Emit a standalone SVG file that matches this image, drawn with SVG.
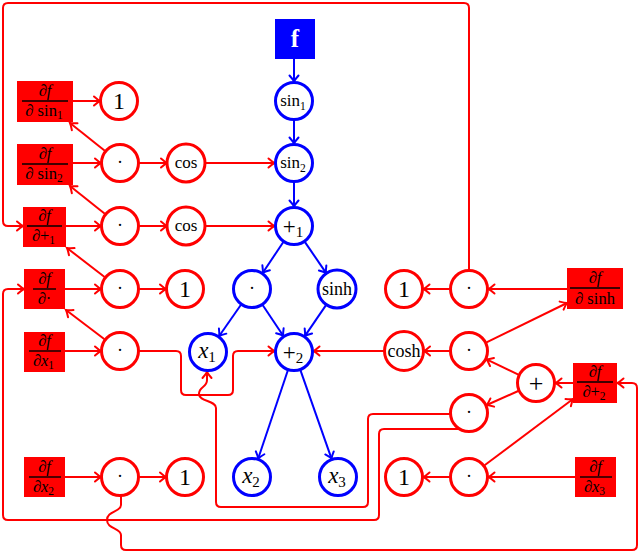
<svg xmlns="http://www.w3.org/2000/svg" width="640" height="553" viewBox="0 0 640 553">
<style>
.rc{fill:#fff;stroke:#ff0000;stroke-width:3}
.bc{fill:#fff;stroke:#0000ff;stroke-width:3}
.box{fill:#ff0000}
.bar{stroke:#000;stroke-width:1.4}
text{font-family:"Liberation Serif","DejaVu Serif",serif;fill:#000;text-anchor:middle}
.fr{font-size:16.5px}
.one{font-size:24px}
.dot{font-size:18px}
.fn{font-size:17px}
.lg{font-size:23px}
.it{font-style:italic}
.sub{font-size:11.5px}
.rl{fill:none;stroke:#ff0000;stroke-width:2}
.bl{fill:none;stroke:#0000ff;stroke-width:2}
</style>
<defs>
<marker id="ar" markerUnits="userSpaceOnUse" markerWidth="12" markerHeight="12" viewBox="-8 -6 10 12" refX="0" refY="0" orient="auto"><path d="M-6,-4.5 Q-2,-1 0,0 Q-2,1 -6,4.5" fill="none" stroke="#ff0000" stroke-width="2" stroke-linecap="round"/></marker>
<marker id="ab" markerUnits="userSpaceOnUse" markerWidth="12" markerHeight="12" viewBox="-8 -6 10 12" refX="0" refY="0" orient="auto"><path d="M-6,-4.5 Q-2,-1 0,0 Q-2,1 -6,4.5" fill="none" stroke="#0000ff" stroke-width="2" stroke-linecap="round"/></marker>
</defs>

<g id="connectors">
<g class="bl" marker-end="url(#ab)">
<path d="M294,59 V81.5"/>
<path d="M294,120.5 V143.5"/>
<path d="M294,182.5 V206.5"/>
<path d="M283.2,242.2 L262.8,272.8"/>
<path d="M305,242.1 L326,272.9"/>
<path d="M240.8,305 L219.2,336"/>
<path d="M262.8,305.2 L283.2,335.8"/>
<path d="M326,305.1 L305,335.9"/>
<path d="M287.8,370.5 L258.2,458.5"/>
<path d="M300.5,370.4 L331.5,458.6"/>
</g>
<g class="rl" marker-end="url(#ar)">
<path d="M73,101 H100"/>
<path d="M73,163 H101"/>
<path d="M139,163 H167"/>
<path d="M205,163 H274.5"/>
<path d="M104.8,150.8 L70,123"/>
<path d="M66,226 H101"/>
<path d="M139,226 H167"/>
<path d="M205,226 H274.5"/>
<path d="M104.8,213.8 L70,186"/>
<path d="M65,289 H101"/>
<path d="M139,289 H166"/>
<path d="M104.6,277 L67,248"/>
<path d="M65,351 H101"/>
<path d="M104.5,339.2 L66,310"/>
<path d="M139,351 H176 Q181,351 181,356 V390 Q181,395 186,395 H228 Q233,395 233,390 V356 Q233,351 238,351 H274.5"/>
<path d="M65,477 H101"/>
<path d="M139,477 H166"/>
<path d="M469,269.5 V8 Q469,3 464,3 H8 Q3,3 3,8 V221 Q3,226 8,226 H23"/>
<path d="M567,289 H488.5"/>
<path d="M449.5,289 H423.5"/>
<path d="M486.5,342.4 L567,303"/>
<path d="M449.5,351 H424"/>
<path d="M384.5,351 H313.5"/>
<path d="M573,383 H555.5"/>
<path d="M518.4,374.6 L486.6,359.4"/>
<path d="M518.2,391 L486.8,405"/>
<path d="M450,414 H373 Q368,414 368,419 V502 Q368,507 363,507 H221 Q216,507 216,502 V408 C216,400 199,402 199,394 C199,386 207,388 207,380 V372"/>
<path d="M458,429 H384 Q379,429 379,434 V515 Q379,520 374,520 H8 Q3,520 3,515 V294 Q3,289 8,289 H24"/>
<path d="M121,496 V505 C121,512 107,511 107,520 C107,529 121,528 121,535 V545 Q121,550 126,550 H632 Q637,550 637,545 V388 Q637,383 632,383 H617.5"/>
<path d="M575,477 H488.5"/>
<path d="M449.5,477 H423.5"/>
<path d="M484.6,465.3 L573,399"/>
</g>
</g>

<g id="f"><rect x="275" y="19" width="40" height="40" fill="#0000ff"/><text x="295" y="47" style="font-size:25px;font-weight:bold;fill:#fff">f</text></g>
<g id="sin1"><circle class="bc" cx="294" cy="101" r="18.5"/><text class="fn" x="293" y="106">sin<tspan class="sub" dy="4">1</tspan></text></g>
<g id="sin2"><circle class="bc" cx="294" cy="163" r="18.5"/><text class="fn" x="293" y="168">sin<tspan class="sub" dy="4">2</tspan></text></g>
<g id="plus1"><circle class="bc" cx="294" cy="226" r="18.5"/><text class="lg" x="293" y="234">+<tspan style="font-size:15px" dy="3">1</tspan></text></g>
<g id="mulB"><circle class="bc" cx="252" cy="289" r="18.5"/><text class="dot" x="252" y="294">·</text></g>
<g id="sinh"><circle class="bc" cx="337" cy="289" r="19"/><text x="337" y="295" style="font-size:18px">sinh</text></g>
<g id="x1"><circle class="bc" cx="208" cy="352" r="18.5"/><text class="lg" x="207" y="358"><tspan class="it">x</tspan><tspan style="font-size:15px" dy="4">1</tspan></text></g>
<g id="plus2"><circle class="bc" cx="294" cy="352" r="18.5"/><text class="lg" x="293" y="360">+<tspan style="font-size:15px" dy="3">2</tspan></text></g>
<g id="x2"><circle class="bc" cx="252" cy="477" r="18.5"/><text class="lg" x="251" y="483"><tspan class="it">x</tspan><tspan style="font-size:15px" dy="4">2</tspan></text></g>
<g id="x3"><circle class="bc" cx="338" cy="477" r="18.5"/><text class="lg" x="337" y="483"><tspan class="it">x</tspan><tspan style="font-size:15px" dy="4">3</tspan></text></g>

<g id="d_sin1"><rect class="box" x="17" y="81" width="56" height="41"/><text class="fr" x="45" y="96">∂<tspan class="it">f</tspan></text><line class="bar" x1="22" y1="101" x2="68" y2="101"/><text class="fr" x="44" y="116">∂ sin<tspan class="sub" dy="3">1</tspan></text></g>
<g id="d_sin2"><rect class="box" x="17" y="144" width="56" height="41"/><text class="fr" x="45" y="159">∂<tspan class="it">f</tspan></text><line class="bar" x1="22" y1="164" x2="68" y2="164"/><text class="fr" x="44" y="179">∂ sin<tspan class="sub" dy="3">2</tspan></text></g>
<g id="d_plus1"><rect class="box" x="23" y="207" width="43" height="40"/><text class="fr" x="44.5" y="221">∂<tspan class="it">f</tspan></text><line class="bar" x1="27" y1="226" x2="62" y2="226"/><text class="fr" x="43.5" y="241">∂+<tspan class="sub" dy="3">1</tspan></text></g>
<g id="d_mul"><rect class="box" x="24" y="269" width="41" height="40"/><text class="fr" x="44.5" y="284">∂<tspan class="it">f</tspan></text><line class="bar" x1="33" y1="289" x2="56" y2="289"/><text class="fr" x="44.5" y="304">∂·</text></g>
<g id="d_x1"><rect class="box" x="24" y="332" width="41" height="40"/><text class="fr" x="44.5" y="346">∂<tspan class="it">f</tspan></text><line class="bar" x1="29" y1="351" x2="61" y2="351"/><text class="fr" x="43.5" y="366">∂<tspan class="it">x</tspan><tspan class="sub" dy="3">1</tspan></text></g>
<g id="d_x2"><rect class="box" x="24" y="457" width="41" height="40"/><text class="fr" x="44.5" y="472">∂<tspan class="it">f</tspan></text><line class="bar" x1="29" y1="477" x2="61" y2="477"/><text class="fr" x="43.5" y="492">∂<tspan class="it">x</tspan><tspan class="sub" dy="3">2</tspan></text></g>
<g id="d_sinh"><rect class="box" x="567" y="268" width="56" height="41"/><text class="fr" x="595" y="283">∂<tspan class="it">f</tspan></text><line class="bar" x1="570" y1="288" x2="620" y2="288"/><text class="fr" x="595" y="304">∂ sinh</text></g>
<g id="d_plus2"><rect class="box" x="573" y="363" width="44" height="40"/><text class="fr" x="595" y="377">∂<tspan class="it">f</tspan></text><line class="bar" x1="577" y1="382" x2="613" y2="382"/><text class="fr" x="594" y="397">∂+<tspan class="sub" dy="3">2</tspan></text></g>
<g id="d_x3"><rect class="box" x="575" y="457" width="41" height="40"/><text class="fr" x="595.5" y="472">∂<tspan class="it">f</tspan></text><line class="bar" x1="580" y1="477" x2="612" y2="477"/><text class="fr" x="594.5" y="492">∂<tspan class="it">x</tspan><tspan class="sub" dy="3">3</tspan></text></g>

<g id="one1"><circle class="rc" cx="119" cy="101" r="18.5"/><text class="one" x="119" y="109">1</text></g>
<g id="mul2"><circle class="rc" cx="120" cy="163" r="18.5"/><text class="dot" x="120" y="168">·</text></g>
<g id="cos2"><circle class="rc" cx="186" cy="163" r="19"/><text class="fn" x="186" y="168">cos</text></g>
<g id="mul3"><circle class="rc" cx="120" cy="226" r="18.5"/><text class="dot" x="120" y="231">·</text></g>
<g id="cos3"><circle class="rc" cx="186" cy="226" r="19"/><text class="fn" x="186" y="231">cos</text></g>
<g id="mul4"><circle class="rc" cx="120" cy="289" r="18.5"/><text class="dot" x="120" y="294">·</text></g>
<g id="one4"><circle class="rc" cx="185" cy="289" r="18.5"/><text class="one" x="185" y="297">1</text></g>
<g id="mul5"><circle class="rc" cx="120" cy="351" r="18.5"/><text class="dot" x="120" y="356">·</text></g>
<g id="mul6"><circle class="rc" cx="120" cy="477" r="18.5"/><text class="dot" x="120" y="482">·</text></g>
<g id="one6"><circle class="rc" cx="185" cy="477" r="18.5"/><text class="one" x="185" y="485">1</text></g>
<g id="oneR4"><circle class="rc" cx="404" cy="289" r="18.5"/><text class="one" x="404" y="297">1</text></g>
<g id="mulR4"><circle class="rc" cx="469" cy="289" r="18.5"/><text class="dot" x="469" y="294">·</text></g>
<g id="cosh"><circle class="rc" cx="404" cy="351" r="19.5"/><text x="404" y="357" style="font-size:18px">cosh</text></g>
<g id="mulR5"><circle class="rc" cx="469" cy="351" r="18.5"/><text class="dot" x="469" y="356">·</text></g>
<g id="plusR"><circle class="rc" cx="536" cy="383" r="18.5"/><text x="536" y="392" style="font-size:26px">+</text></g>
<g id="mulR6"><circle class="rc" cx="469" cy="413" r="18.5"/><text class="dot" x="469" y="418">·</text></g>
<g id="oneR7"><circle class="rc" cx="404" cy="477" r="18.5"/><text class="one" x="404" y="485">1</text></g>
<g id="mulR7"><circle class="rc" cx="469" cy="477" r="18.5"/><text class="dot" x="469" y="482">·</text></g>
</svg>
